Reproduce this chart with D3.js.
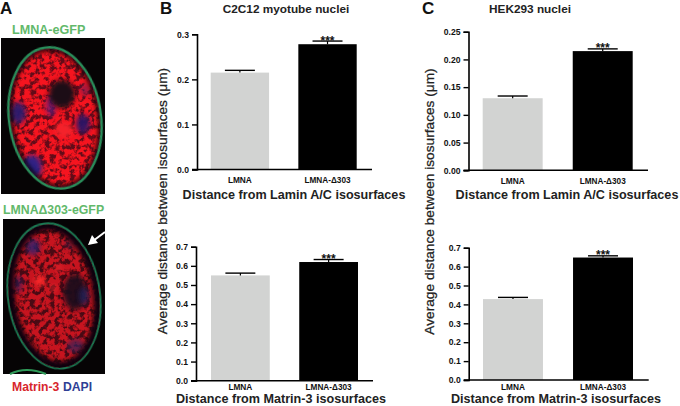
<!DOCTYPE html>
<html>
<head>
<meta charset="utf-8">
<script src="https://cdnjs.cloudflare.com/ajax/libs/d3/7.8.5/d3.min.js"></script>
<style>
  html, body { margin: 0; padding: 0; background: #fff; }
  svg { display: block; }
  text { font-family: "Liberation Sans", Arial, sans-serif; fill: #111; }
</style>
</head>
<body>
<div id="figure"></div>
<script>
"use strict";

var categories = ["LMNA", "LMNA-\u0394303"];
var categoryWidths = [24, 46];
var barColors = ["#d2d3d2", "#000000"];

var c2c12LaminValues = [0.215, 0.278];
var c2c12LaminErrors = [0.005, 0.007];
var c2c12LaminTicks = [0, 0.1, 0.2, 0.3];

var c2c12MatrinValues = [0.55, 0.62];
var c2c12MatrinErrors = [0.012, 0.013];
var matrinTicks = [0, 0.1, 0.2, 0.3, 0.4, 0.5, 0.6, 0.7];

var hekLaminValues = [0.13, 0.215];
var hekLaminErrors = [0.004, 0.004];
var hekLaminTicks = [0, 0.05, 0.1, 0.15, 0.2, 0.25];

var hekMatrinValues = [0.428, 0.648];
var hekMatrinErrors = [0.009, 0.009];

var svg = d3.select("#figure").append("svg")
  .attr("width", 680)
  .attr("height", 406);

var defs = svg.append("defs");

// Soft edges for the blobs in the micrographs
defs.append("filter").attr("id", "soft")
  .attr("x", "-50%").attr("y", "-50%").attr("width", "200%").attr("height", "200%")
  .append("feGaussianBlur").attr("stdDeviation", 2.6);

defs.append("filter").attr("id", "softLine")
  .append("feGaussianBlur").attr("stdDeviation", 0.6);

defs.append("filter").attr("id", "softRing")
  .attr("x", "-20%").attr("y", "-20%").attr("width", "140%").attr("height", "140%")
  .append("feGaussianBlur").attr("stdDeviation", 2.2);

// Speckled chromatin texture
function addSpeckle(id, seed, gain) {
  var f = defs.append("filter").attr("id", id)
    .attr("filterUnits", "userSpaceOnUse")
    .attr("x", 0).attr("y", 0).attr("width", 120).attr("height", 406)
    .attr("color-interpolation-filters", "sRGB");
  f.append("feTurbulence")
    .attr("type", "fractalNoise")
    .attr("baseFrequency", 0.2)
    .attr("numOctaves", 3)
    .attr("seed", seed);
  f.append("feColorMatrix").attr("type", "matrix")
    .attr("values", "0 0 0 0 " + gain + "  0 0 0 0 0.08  0 0 0 0 0.12  " + "5 0 0 0 -1.75");
  f.append("feGaussianBlur").attr("stdDeviation", 0.7);
}
addSpeckle("speckleTop", 4, 0.96);
addSpeckle("speckleBottom", 9, 0.78);

// Micrograph panels: [cx, cy, rx, ry, colour, opacity]
var topBlobs = [
  [18, 113, 8, 11, "#2a1a70", 0.95],
  [83, 124, 7, 10, "#2a1668", 0.95],
  [32, 167, 10, 12, "#26248a", 0.95],
  [51, 106, 5, 11, "#5c1a80", 0.75],
  [62, 94, 13, 14, "#1c0a14", 1],
  [85, 90, 5, 6, "#501a60", 0.55],
  [64, 130, 9, 8, "#f4202a", 1]
];

var bottomBlobs = [
  [33, 247, 7, 8, "#2a2070", 0.8],
  [75, 292, 12, 18, "#1c0c1c", 0.95],
  [84, 296, 5, 9, "#24205c", 0.8],
  [18, 284, 5, 9, "#2a1a60", 0.6],
  [76, 346, 9, 7, "#30205c", 0.7],
  [70, 244, 6, 5, "#3a1c50", 0.45],
  [40, 281, 5, 5, "#ff2a2a", 1],
  [59, 268, 3, 3, "#e0282c", 1],
  [53, 288, 3, 3, "#e0282c", 1]
];

function drawMicrograph(opts) {
  var g = svg.append("g");
  g.append("rect")
    .attr("x", opts.x).attr("y", opts.y)
    .attr("width", opts.w).attr("height", opts.h)
    .attr("fill", "#060405");

  var nucleus = "rotate(" + opts.tilt + " " + opts.cx + " " + opts.cy + ")";

  defs.append("clipPath").attr("id", opts.id + "Clip")
    .append("ellipse")
    .attr("cx", opts.cx).attr("cy", opts.cy)
    .attr("rx", opts.rx - 1).attr("ry", opts.ry - 1)
    .attr("transform", nucleus);

  var inner = g.append("g").attr("clip-path", "url(#" + opts.id + "Clip)");

  inner.append("rect")
    .attr("x", opts.x).attr("y", opts.y)
    .attr("width", opts.w).attr("height", opts.h)
    .attr("fill", opts.base);

  inner.append("rect")
    .attr("x", opts.x).attr("y", opts.y)
    .attr("width", opts.w).attr("height", opts.h)
    .attr("filter", "url(#" + opts.speckle + ")");

  inner.selectAll("ellipse.blob")
    .data(opts.blobs)
    .enter().append("ellipse")
    .attr("class", "blob")
    .attr("cx", function(d) { return d[0]; })
    .attr("cy", function(d) { return d[1]; })
    .attr("rx", function(d) { return d[2]; })
    .attr("ry", function(d) { return d[3]; })
    .attr("fill", function(d) { return d[4]; })
    .attr("opacity", function(d) { return d[5]; })
    .attr("filter", "url(#soft)");

  // dark gap between chromatin and the lamina
  inner.append("ellipse")
    .attr("cx", opts.cx).attr("cy", opts.cy)
    .attr("rx", opts.rx - 1).attr("ry", opts.ry - 1)
    .attr("transform", nucleus)
    .attr("fill", "none")
    .attr("stroke", "#0a0408")
    .attr("stroke-width", opts.gap)
    .attr("filter", "url(#softRing)");

  g.append("ellipse")
    .attr("cx", opts.cx).attr("cy", opts.cy)
    .attr("rx", opts.rx).attr("ry", opts.ry)
    .attr("transform", nucleus)
    .attr("fill", "none")
    .attr("stroke", opts.rim)
    .attr("stroke-width", opts.rimWidth)
    .attr("filter", "url(#softLine)");

  return g;
}

drawMicrograph({
  id: "top", x: 1, y: 38, w: 104, h: 156,
  cx: 55, cy: 118, rx: 46, ry: 71, tilt: -8,
  base: "#640b18", speckle: "speckleTop", blobs: topBlobs,
  rim: "#2c8f5c", rimWidth: 2.4, gap: 5
});

var lower = drawMicrograph({
  id: "bottom", x: 3, y: 219, w: 102, h: 155,
  cx: 54, cy: 296, rx: 46, ry: 73, tilt: -8,
  base: "#4a0a14", speckle: "speckleBottom", blobs: bottomBlobs,
  rim: "#1f7a54", rimWidth: 1.8, gap: 12
});

// neighbouring cell rim, bottom edge of the lower image
lower.append("path")
  .attr("d", "M10,374 Q26,366 46,374")
  .attr("fill", "none")
  .attr("stroke", "#2f9a58")
  .attr("stroke-width", 2)
  .attr("filter", "url(#softLine)");

// arrow
lower.append("line")
  .attr("x1", 105).attr("y1", 232).attr("x2", 93).attr("y2", 241)
  .attr("stroke", "#fff").attr("stroke-width", 2);
lower.append("path")
  .attr("d", "M88,245 L92,235 L98,243 Z")
  .attr("fill", "#fff");

function label(str, x, y, size, weight, color, anchor) {
  return svg.append("text")
    .attr("x", x).attr("y", y)
    .attr("font-size", size)
    .attr("font-weight", weight)
    .attr("text-anchor", anchor || "start")
    .style("fill", color || "#111")
    .text(str);
}

label("A", 0, 14, 17, "bold");
label("B", 160, 14, 17, "bold");
label("C", 422, 14, 17, "bold");

label("LMNA-eGFP", 12, 33.5, 12.6, "bold", "#62b96a");
label("LMNA\u0394303-eGFP", 3, 214, 12.3, "bold", "#62b96a");
label("Matrin-3", 12, 391, 12.2, "bold", "#d8262c");
label("DAPI", 63, 391, 12.2, "bold", "#2f3f95");

label("C2C12 myotube nuclei", 286, 13, 11.8, "bold", "#222", "middle");
label("HEK293 nuclei", 530, 13, 11.8, "bold", "#222", "middle");

function yAxisTitle(x, y) {
  svg.append("text")
    .attr("transform", "translate(" + x + "," + y + ") rotate(-90)")
    .attr("text-anchor", "middle")
    .attr("font-size", 13.7)
    .style("fill", "#222")
    .style("stroke", "#222")
    .style("stroke-width", 0.25)
    .text("Average distance between isosurfaces (\u03bcm)");
}
yAxisTitle(166.5, 201);
yAxisTitle(434, 201.5);

function drawBars(opts) {
  var y = d3.scaleLinear()
    .domain([0, opts.max])
    .range([opts.y0, opts.y1]);

  var x = d3.scaleBand()
    .domain(categories)
    .range([opts.barLeft, opts.barRight])
    .paddingInner(0.334);

  var g = svg.append("g");

  g.selectAll("rect.bar")
    .data(opts.values)
    .enter().append("rect")
    .attr("class", "bar")
    .attr("x", function(d, i) { return x(categories[i]); })
    .attr("y", function(d) { return y(d); })
    .attr("width", x.bandwidth())
    .attr("height", function(d) { return y(0) - y(d); })
    .attr("fill", function(d, i) { return barColors[i]; });

  // error bars, upper side only
  var capWidth = 30;
  opts.values.forEach(function(v, i) {
    var mid = x(categories[i]) + x.bandwidth() / 2;
    var top = y(v + opts.errors[i]);
    g.append("line")
      .attr("x1", mid).attr("x2", mid)
      .attr("y1", y(v)).attr("y2", top)
      .attr("stroke", "#000").attr("stroke-width", 1.2);
    g.append("line")
      .attr("x1", mid - capWidth / 2).attr("x2", mid + capWidth / 2)
      .attr("y1", top).attr("y2", top)
      .attr("stroke", "#000").attr("stroke-width", 1.4);
  });

  var last = opts.values.length - 1;
  g.append("text")
    .attr("x", x(categories[last]) + x.bandwidth() / 2)
    .attr("y", y(opts.values[last] + opts.errors[last]) + 3.5)
    .attr("text-anchor", "middle")
    .attr("font-size", 12)
    .attr("font-weight", "bold")
    .text("***");

  var yAxis = d3.axisLeft(y)
    .tickValues(opts.ticks)
    .tickSize(5)
    .tickFormat(d3.format(opts.format));

  var axisY = g.append("g")
    .attr("transform", "translate(" + opts.axisX + ",0)")
    .call(yAxis);
  axisY.select(".domain")
    .attr("stroke-width", 1.6);
  axisY.selectAll(".tick line").attr("stroke-width", 1.4);
  axisY.selectAll(".tick text")
    .attr("font-size", 8.6)
    .attr("font-weight", "bold")
    .attr("font-family", '"Liberation Sans", Arial, sans-serif');

  g.append("line")
    .attr("x1", opts.axisX - 5).attr("x2", opts.axisEnd)
    .attr("y1", opts.y0).attr("y2", opts.y0)
    .attr("stroke", "#000").attr("stroke-width", 1.6);

  g.selectAll("text.cat")
    .data(categories)
    .enter().append("text")
    .attr("class", "cat")
    .attr("x", function(d) { return x(d) + x.bandwidth() / 2; })
    .attr("y", opts.catY)
    .attr("text-anchor", "middle")
    .attr("font-size", 9.4)
    .attr("font-weight", "bold")
    .attr("textLength", function(d, i) { return categoryWidths[i]; })
    .attr("lengthAdjust", "spacingAndGlyphs")
    .text(function(d) { return d; });

  label(opts.title, opts.titleX, opts.titleY, 12.6, "bold", "#222", "middle");
}

drawBars({
  values: c2c12LaminValues, errors: c2c12LaminErrors, ticks: c2c12LaminTicks,
  max: 0.3, format: ".1f", y0: 169.5, y1: 34.3, catY: 183,
  axisX: 197, axisEnd: 372, barLeft: 210.7, barRight: 356.7,
  title: "Distance from Lamin A/C isosurfaces", titleX: 294, titleY: 199
});

drawBars({
  values: c2c12MatrinValues, errors: c2c12MatrinErrors, ticks: matrinTicks,
  max: 0.7, format: ".1f", y0: 380.7, y1: 246.7, catY: 390.2,
  axisX: 196, axisEnd: 373, barLeft: 211, barRight: 358,
  title: "Distance from Matrin-3 isosurfaces", titleX: 281, titleY: 403.3
});

drawBars({
  values: hekLaminValues, errors: hekLaminErrors, ticks: hekLaminTicks,
  max: 0.25, format: ".2f", y0: 170.3, y1: 31.7, catY: 184,
  axisX: 468.5, axisEnd: 648, barLeft: 482.7, barRight: 632.7,
  title: "Distance from Lamin A/C isosurfaces", titleX: 567, titleY: 199
});

drawBars({
  values: hekMatrinValues, errors: hekMatrinErrors, ticks: matrinTicks,
  max: 0.7, format: ".1f", y0: 380, y1: 247.7, catY: 390.2,
  axisX: 468.7, axisEnd: 648.7, barLeft: 483, barRight: 633,
  title: "Distance from Matrin-3 isosurfaces", titleX: 556, titleY: 403.3
});
</script>
</body>
</html>
